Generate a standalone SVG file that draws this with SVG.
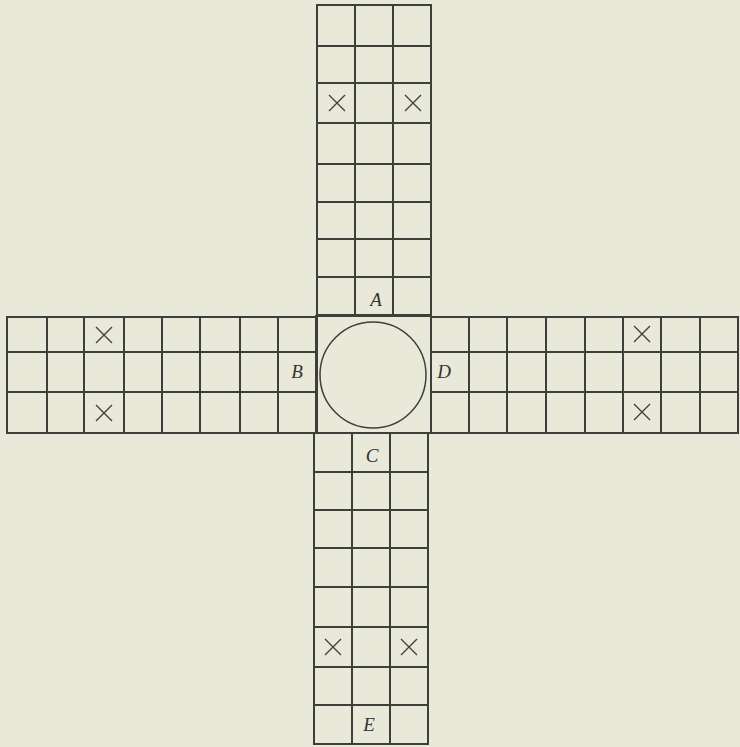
<svg xmlns="http://www.w3.org/2000/svg" width="740" height="747" viewBox="0 0 740 747">
<style>
.g{fill:none;stroke:#3e3e3a;stroke-width:2}
.c{fill:none;stroke:#3e3e3a;stroke-width:1.5}
.x{stroke:#3e3e3a;stroke-width:1.3;fill:none}
.t{font-family:"Liberation Serif",serif;font-style:italic;font-size:19px;fill:#333;text-anchor:middle}
</style>
<defs>
<path id="cross" class="x" d="M-8,-8L8,8M8,-8L-8,8"/>
</defs>
<rect width="740" height="747" fill="#e9e9da"/>
<g id="top-arm">
<rect class="g" x="317" y="5" width="114" height="310"/>
<path class="g" d="M355,5V315M393,5V315M317,46H431M317,83H431M317,123H431M317,164H431M317,202H431M317,239H431M317,277H431"/>
<use href="#cross" x="337" y="103"/>
<use href="#cross" x="413" y="103"/>
<text class="t" x="376" y="306">A</text>
</g>
<g id="left-arm">
<rect class="g" x="7" y="317" width="310" height="116"/>
<path class="g" d="M7,352H317M7,392H317M47,317V433M84,317V433M124,317V433M162,317V433M200,317V433M240,317V433M278,317V433"/>
<use href="#cross" x="104" y="335"/>
<use href="#cross" x="104" y="413"/>
<text class="t" x="297" y="378">B</text>
</g>
<g id="right-arm">
<rect class="g" x="431" y="317" width="307" height="116"/>
<path class="g" d="M431,352H738M431,392H738M469,317V433M507,317V433M546,317V433M585,317V433M623,317V433M661,317V433M700,317V433"/>
<use href="#cross" x="642" y="334"/>
<use href="#cross" x="642" y="412"/>
<text class="t" x="444" y="378">D</text>
</g>
<g id="bottom-arm">
<rect class="g" x="314" y="433" width="114" height="311"/>
<path class="g" d="M352,433V744M390,433V744M314,472H428M314,510H428M314,548H428M314,587H428M314,627H428M314,667H428M314,705H428"/>
<use href="#cross" x="333" y="647"/>
<use href="#cross" x="409" y="647"/>
<text class="t" x="372" y="462">C</text>
<text class="t" x="369" y="731">E</text>
</g>
<g id="center">
<rect class="g" x="316" y="316" width="115" height="117"/>
<circle class="c" cx="373" cy="375" r="53"/>
</g>
</svg>
